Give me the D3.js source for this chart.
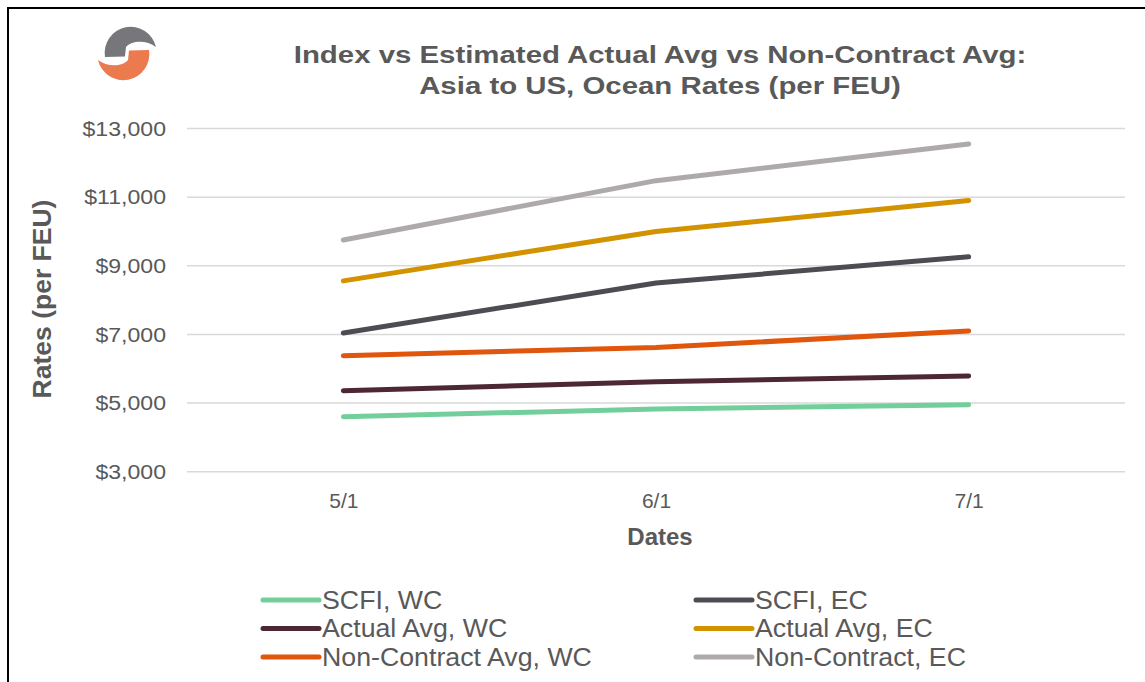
<!DOCTYPE html>
<html>
<head>
<meta charset="utf-8">
<script src="https://cdn.jsdelivr.net/npm/d3@7"></script>
<style>
  html, body { margin: 0; padding: 0; background: #fff; }
  svg { display: block; font-family: "Liberation Sans", Arial, sans-serif; }
</style>
</head>
<body>
<svg id="chart" width="1145" height="682"></svg>
<script>
// Dates on the x axis
const dates = ["5/1", "6/1", "7/1"];

// Rates per FEU for each series
const scfiWC = [4600, 4830, 4950];
const scfiEC = [7040, 8500, 9260];
const actualWC = [5360, 5620, 5790];
const actualEC = [8560, 10000, 10900];
const nonContractWC = [6380, 6620, 7100];
const nonContractEC = [9750, 11480, 12550];

const seriesNames = ["SCFI, WC", "SCFI, EC", "Actual Avg, WC", "Actual Avg, EC", "Non-Contract Avg, WC", "Non-Contract, EC"];
const seriesValues = [scfiWC, scfiEC, actualWC, actualEC, nonContractWC, nonContractEC];
const seriesColors = ["#72cf9c", "#4c4d52", "#4d2735", "#d39200", "#e0560d", "#aeaaaa"];

// y axis ticks
const yTicks = [3000, 5000, 7000, 9000, 11000, 13000];

const titleLines = ["Index vs Estimated Actual Avg vs Non-Contract Avg:", "Asia to US, Ocean Rates (per FEU)"];

const textColor = "#595959";
const svg = d3.select("#chart");

// outer frame
svg.append("rect")
  .attr("x", 8).attr("y", 8)
  .attr("width", 1160).attr("height", 700)
  .attr("fill", "none").attr("stroke", "#000").attr("stroke-width", 2);

const plotLeft = 187, plotRight = 1125;
const x = d3.scalePoint().domain(dates).range([plotLeft, plotRight]).padding(0.5);
const y = d3.scaleLinear().domain([3000, 13000]).range([471.7, 128.5]);

// gridlines
svg.append("g")
  .selectAll("line")
  .data(yTicks)
  .join("line")
  .attr("x1", plotLeft).attr("x2", plotRight)
  .attr("y1", d => y(d)).attr("y2", d => y(d))
  .attr("stroke", "#d9d9d9").attr("stroke-width", 1.5);

// y axis labels (slightly wide lettering)
const yAxis = d3.axisLeft(y).tickValues(yTicks)
  .tickFormat(d => "$" + d3.format(",")(d))
  .tickSize(0).tickPadding(0);
const yg = svg.append("g").attr("transform", `translate(166,0)`).call(yAxis);
yg.select(".domain").remove();
yg.selectAll("text")
  .attr("x", 0)
  .attr("transform", "scale(1.1,1)")
  .attr("fill", textColor)
  .style("font-size", "21px")
  .style("font-family", "Liberation Sans, Arial, sans-serif");

// x axis labels
const xAxis = d3.axisBottom(x).tickSize(0).tickPadding(0);
const xg = svg.append("g").attr("transform", `translate(0,493)`).call(xAxis);
xg.select(".domain").remove();
xg.selectAll("text")
  .attr("fill", textColor)
  .style("font-size", "21px")
  .style("font-family", "Liberation Sans, Arial, sans-serif");

// series lines
const line = d3.line().x((d, i) => x(dates[i])).y(d => y(d));
svg.append("g")
  .selectAll("path")
  .data(seriesValues)
  .join("path")
  .attr("d", d => line(d))
  .attr("fill", "none")
  .attr("stroke", (d, i) => seriesColors[i])
  .attr("stroke-width", 5)
  .attr("stroke-linecap", "round")
  .attr("stroke-linejoin", "round");

// title, widened lettering
svg.append("text")
  .attr("transform", "translate(660,63) scale(1.2,1)")
  .attr("text-anchor", "middle")
  .attr("fill", textColor)
  .style("font-size", "24.5px").style("font-weight", "bold")
  .selectAll("tspan")
  .data(titleLines)
  .join("tspan")
  .attr("x", 0)
  .attr("dy", (d, i) => i === 0 ? 0 : 31)
  .text(d => d);

// axis titles
svg.append("text")
  .attr("transform", "translate(51,299) rotate(-90)")
  .attr("text-anchor", "middle")
  .attr("fill", textColor)
  .style("font-size", "26.5px").style("font-weight", "bold")
  .text("Rates (per FEU)");

svg.append("text")
  .attr("x", 660).attr("y", 545)
  .attr("text-anchor", "middle")
  .attr("fill", textColor)
  .style("font-size", "24px").style("font-weight", "bold")
  .text("Dates");

// legend: two columns, three rows
const legendCols = [263, 696];
const legendRows = [600, 628.5, 657];
const legend = svg.append("g")
  .selectAll("g")
  .data(seriesNames)
  .join("g")
  .attr("transform", (d, i) => `translate(${legendCols[i % 2]},${legendRows[Math.floor(i / 2)]})`);
legend.append("line")
  .attr("x1", 0).attr("x2", 56)
  .attr("stroke", (d, i) => seriesColors[i])
  .attr("stroke-width", 5)
  .attr("stroke-linecap", "round");
legend.append("text")
  .attr("transform", "translate(59,8.5) scale(1.07,1)")
  .attr("fill", textColor)
  .style("font-size", "25px")
  .text(d => d);

// logo mark
const logo = svg.append("g").attr("transform", "translate(127,55)");
const half = "M -22,2 A 26,26 0 0 1 29,-8 C 20,-15 5,-15 -1,-8 L -2,1.5 Z";
logo.append("path").attr("d", half).attr("fill", "#77777b");
logo.append("path").attr("d", half).attr("fill", "#ec7a4f").attr("transform", "rotate(180) translate(0,3)");
</script>
</body>
</html>
